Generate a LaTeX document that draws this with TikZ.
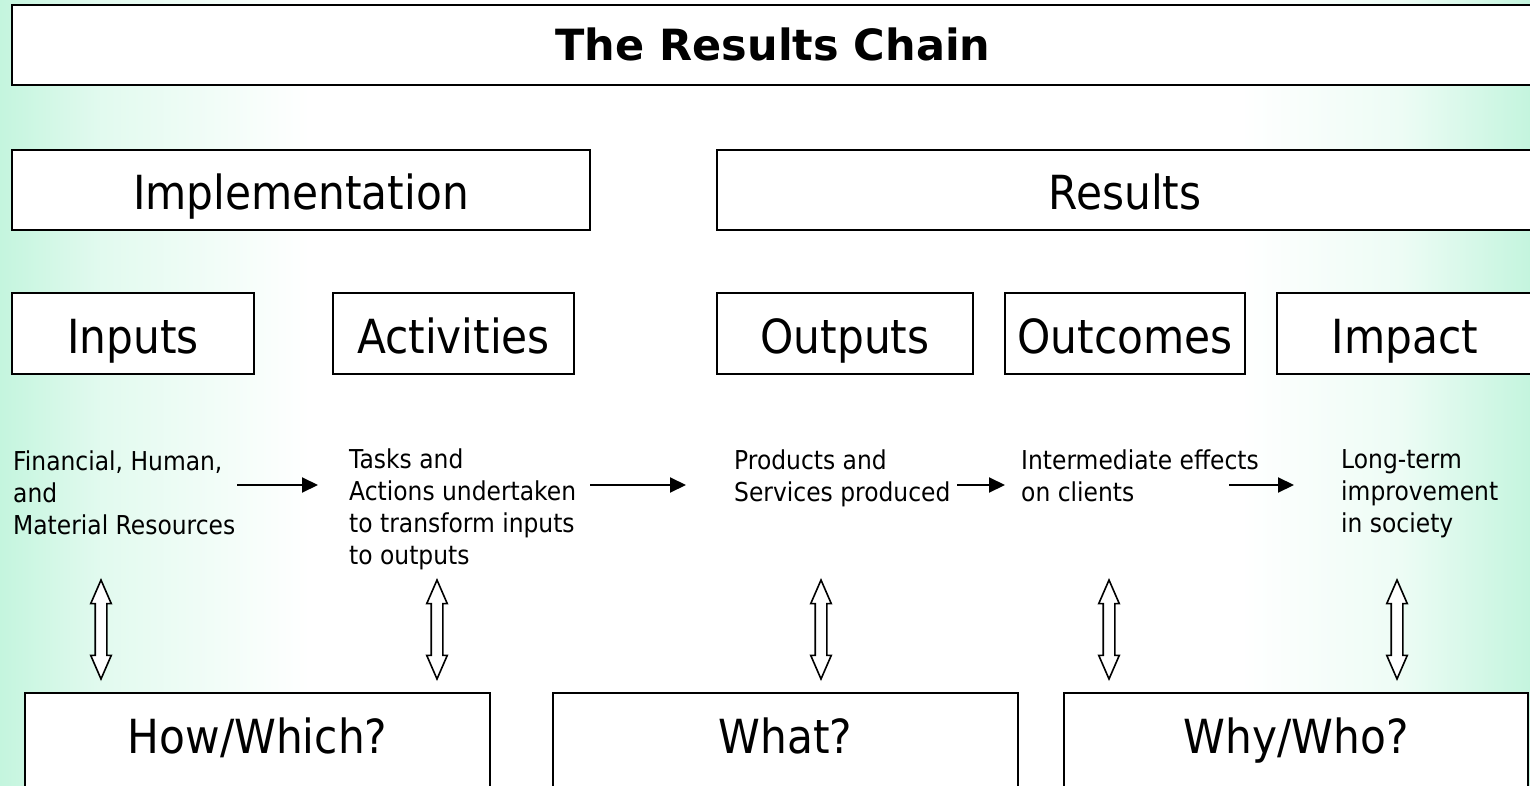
\documentclass[tikz,border=0pt]{standalone}
\usepackage{fontspec}
\setmainfont{DejaVu Sans}[FakeStretch=0.9]
\newfontfamily\titlefont{DejaVu Sans}
\usetikzlibrary{shapes.arrows,arrows.meta}
\definecolor{mint}{RGB}{196,245,222}
\colorlet{mintB}{mint!50!white}
\colorlet{mintD}{mint!30!white}
\begin{document}
\begin{tikzpicture}[x=1pt,y=-1pt,
  box/.style={draw=black, line width=2.2pt, fill=white, inner sep=0pt,
    font=\fontsize{47}{56}\selectfont, text height=39pt, text depth=0pt, minimum height=81pt},
  titlebox/.style={box, font=\titlefont\bfseries\fontsize{43}{52}\selectfont, text height=32pt, minimum height=80pt},
  bottombox/.style={box, text depth=59pt, minimum height=140pt},
  desc/.style={anchor=north west, align=left, inner sep=0pt, font=\fontsize{26}{32}\selectfont},
  flow/.style={line width=2pt, -{Triangle[length=16pt,width=15pt]}},
  dbl/.style={double arrow, draw=black, fill=white, line width=1.6pt, minimum height=99pt,
    inner xsep=0pt, inner ysep=5pt, double arrow head extend=4.5pt, double arrow tip angle=47, rotate=90}
]
\useasboundingbox (0,0) rectangle (1530,786);
\fill[white] (0,0) rectangle (1530,786);
\fill[left color=mint, right color=mintB, draw=none] (0,0) rectangle (100,786);
\fill[left color=mintB, right color=white, draw=none] (99.5,0) rectangle (310,786);
\fill[left color=white, right color=mintD, draw=none] (1240,0) rectangle (1400.5,786);
\fill[left color=mintD, right color=mint, draw=none] (1400,0) rectangle (1530,786);
\clip (0,0) rectangle (1530,786);

% title and group boxes
\node[titlebox, minimum width=1522pt] (title) at (773,45) {The Results Chain};
\node[box, minimum width=578pt, minimum height=80pt] (impl) at (301,190) {Implementation};
\node[box, minimum width=816pt, minimum height=80pt] (res) at (1125,190) {Results};

% stage boxes
\node[box, minimum width=242pt] (inputs) at (133,333.5) {Inputs};
\node[box, minimum width=241pt] (activities) at (453.5,333.5) {Activities};
\node[box, minimum width=256pt] (outputs) at (845,333.5) {Outputs};
\node[box, minimum width=240pt] (outcomes) at (1125,333.5) {Outcomes};
\node[box, minimum width=256pt] (impact) at (1405,333.5) {Impact};

% descriptions
\node[desc] (d1) at (13,451) {Financial, Human,\\and\\Material Resources};
\node[desc] (d2) at (349,449) {Tasks and\\Actions undertaken\\to transform inputs\\to outputs};
\node[desc] (d3) at (734,450) {Products and\\Services produced};
\node[desc] (d4) at (1021,450) {Intermediate effects\\on clients};
\node[desc] (d5) at (1341,449) {Long-term\\improvement\\in society};

% flow arrows
\coordinate (a1s) at (237,485); \coordinate (a1e) at (318,485);
\coordinate (a2s) at (590,485); \coordinate (a2e) at (686,485);
\coordinate (a3s) at (957,485); \coordinate (a3e) at (1005,485);
\coordinate (a4s) at (1229,485); \coordinate (a4e) at (1294,485);
\draw[flow] (a1s) -- (a1e);
\draw[flow] (a2s) -- (a2e);
\draw[flow] (a3s) -- (a3e);
\draw[flow] (a4s) -- (a4e);

% double arrows
\node[dbl] (v1) at (101,629.5) {};
\node[dbl] (v2) at (437,629.5) {};
\node[dbl] (v3) at (821,629.5) {};
\node[dbl] (v4) at (1109,629.5) {};
\node[dbl] (v5) at (1397,629.5) {};

% question boxes
\node[bottombox, minimum width=465pt] (how) at (257.5,763) {How/Which?};
\node[bottombox, minimum width=465pt] (what) at (785.5,763) {What?};
\node[bottombox, minimum width=464pt] (why) at (1296,763) {Why/Who?};
\end{tikzpicture}
\end{document}
